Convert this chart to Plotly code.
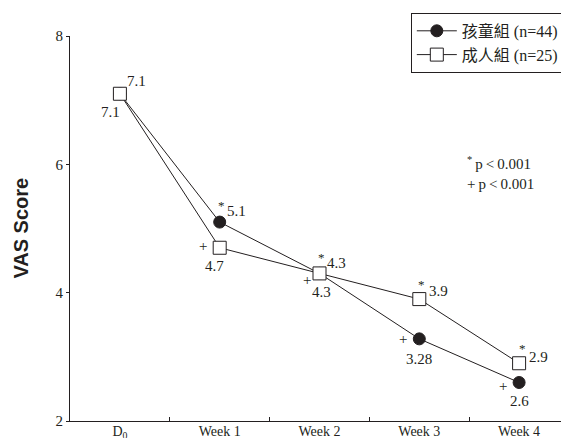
import plotly.graph_objects as go

categories = ["D0", "Week 1", "Week 2", "Week 3", "Week 4"]
tick_labels = ["D<sub>0</sub>", "Week 1", "Week 2", "Week 3", "Week 4"]
children = [7.1, 5.1, 4.3, 3.28, 2.6]
adults = [7.1, 4.7, 4.3, 3.9, 2.9]
children_labels = ["7.1", "5.1", "4.3", "3.28", "2.6"]
adults_labels = ["7.1", "4.7", "4.3", "3.9", "2.9"]

SERIF = "Liberation Serif, Times New Roman, serif"
INK = "#231f20"

# label pixel offsets (style only): upper value, star, plus, lower value
UP_VAL = [(17, 13), (17, 11), (17, 10), (19, 8), (19, 6)]
STAR = [(0, 0), (2, 17), (2, 16), (2, 15), (3, 15)]
PLUS = [(0, 0), (-17, 2), (-13, -7), (-16, 0), (-16, -3)]
LO_VAL = [(-9, -18), (-5, -18), (2, -19), (0, -20), (0, -18)]

fig = go.Figure()
fig.add_trace(go.Scatter(
    x=categories, y=children, mode="lines+markers", name="孩童組 (n=44)",
    legendgroup="c",
    line=dict(color=INK, width=1),
    marker=dict(symbol="circle", size=12, color=INK, line=dict(color=INK, width=1)),
))
fig.add_trace(go.Scatter(
    x=categories, y=adults, mode="lines+markers", name="成人組 (n=25)",
    legendgroup="a",
    line=dict(color=INK, width=1),
    marker=dict(symbol="square", size=13, color="white", line=dict(color=INK, width=1)),
))

ann = []
def add(x, y, text, off, size=15):
    ann.append(dict(x=x, y=y, xref="x", yref="y", text=text, showarrow=False,
                    xshift=off[0], yshift=off[1], font=dict(family=SERIF, size=size, color=INK)))

# D0 labels (both groups share the starting value)
add(categories[0], adults[0], adults_labels[0], UP_VAL[0])
add(categories[0], children[0], children_labels[0], LO_VAL[0])

for i in range(1, len(categories)):
    c, a = children[i], adults[i]
    upper_is_child = c >= a
    up_val = c if upper_is_child else a
    lo_val = a if upper_is_child else c
    up_lab = children_labels[i] if upper_is_child else adults_labels[i]
    lo_lab = adults_labels[i] if upper_is_child else children_labels[i]
    add(categories[i], up_val, "*", STAR[i], 13)
    add(categories[i], up_val, up_lab, UP_VAL[i])
    add(categories[i], lo_val, "+", PLUS[i], 15)
    add(categories[i], lo_val, lo_lab, LO_VAL[i])

ann.append(dict(x=0.792, y=0.645, xref="paper", yref="paper", xanchor="left", yanchor="middle",
                text="<sup>*</sup>&#8201;p&#8201;&lt;&#8201;0.001<br>+&#8201;p&#8201;&lt;&#8201;0.001",
                showarrow=False, align="left",
                font=dict(family=SERIF, size=15, color=INK)))
ann.append(dict(x=-0.1, y=0.5, xref="paper", yref="paper", text="<b>VAS Score</b>",
                textangle=-90, showarrow=False, xanchor="center", yanchor="middle",
                font=dict(family="Liberation Sans, Arial, sans-serif", size=20, color=INK)))

# page body has an 8px margin, so the figure is sized/margined to compensate
fig.update_layout(
    width=561, height=430,
    margin=dict(l=62, r=0, t=28, b=17),
    paper_bgcolor="white", plot_bgcolor="white",
    showlegend=True,
    legend=dict(x=0.683, y=1.06, xanchor="left", yanchor="top",
                bordercolor=INK, borderwidth=1, bgcolor="white",
                font=dict(family="Liberation Serif, Noto Sans CJK TC", size=16, color=INK),
                tracegroupgap=4, itemwidth=40, traceorder="normal"),
    annotations=ann,
    xaxis=dict(type="category", categoryorder="array", categoryarray=categories,
               tickvals=categories, ticktext=tick_labels, tickson="boundaries",
               range=[-0.5, 4.5], showline=True, linecolor=INK, linewidth=1,
               ticks="inside", ticklen=4, tickcolor=INK, showgrid=False, zeroline=False,
               automargin=False, ticklabelstandoff=-3,
               tickfont=dict(family=SERIF, size=14, color=INK)),
    yaxis=dict(range=[2, 8], tickvals=[2, 4, 6, 8], showline=True, linecolor=INK, linewidth=1,
               ticks="outside", ticklen=3, tickcolor=INK, showgrid=False, zeroline=False,
               automargin=False,
               tickfont=dict(family=SERIF, size=15, color=INK)),
)

fig.write_html("out.html")
